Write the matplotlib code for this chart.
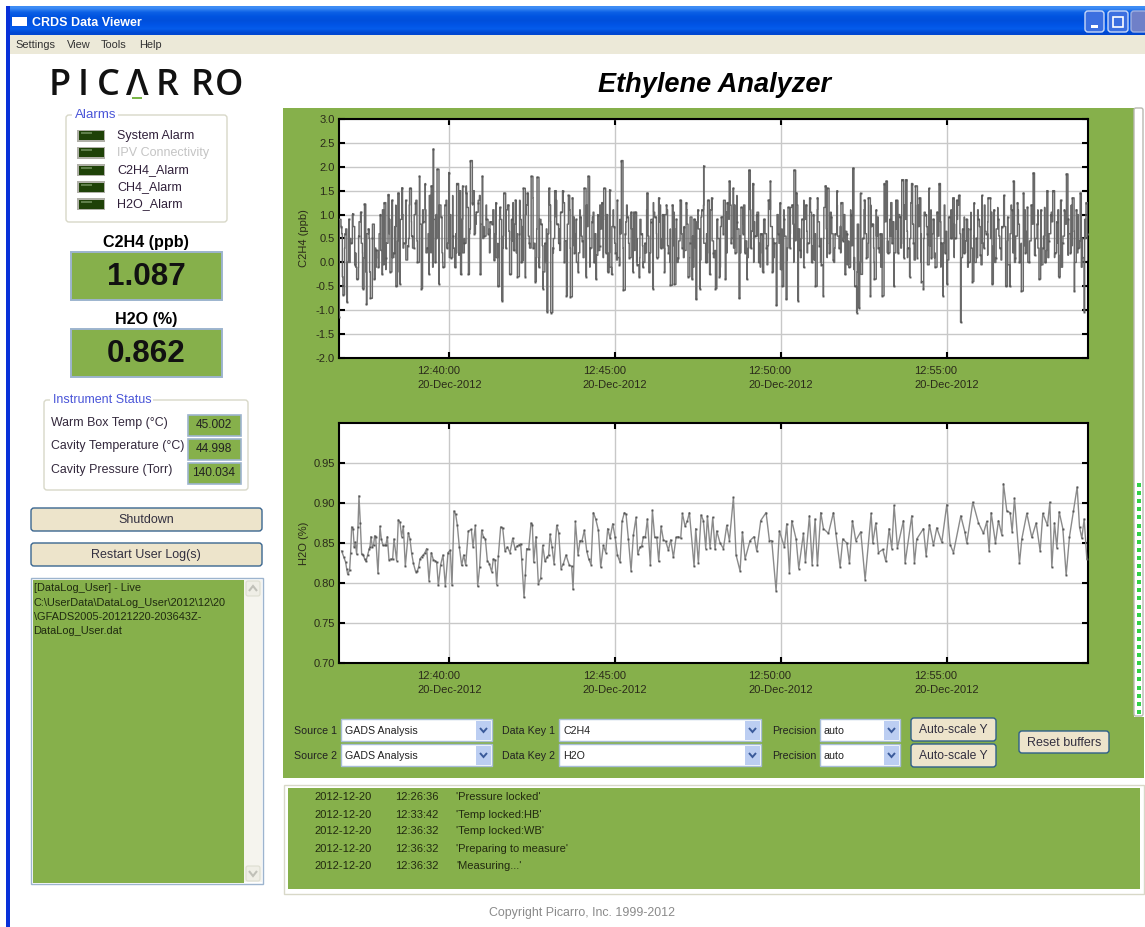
import numpy as np
import matplotlib
matplotlib.use("Agg")
import matplotlib.pyplot as plt
import matplotlib.dates as mdates
from matplotlib.patches import Rectangle, FancyBboxPatch, Polygon

plt.rcParams['font.family'] = ['Liberation Sans', 'DejaVu Sans']

# ---------------- data ----------------
window_title = "CRDS Data Viewer"
menu_items = ["Settings", "View", "Tools", "Help"]
main_title = "Ethylene Analyzer"
alarm_names = ["System Alarm", "IPV Connectivity", "C2H4_Alarm", "CH4_Alarm", "H2O_Alarm"]
status_names = ["Warm Box Temp (°C)", "Cavity Temperature (°C)", "Cavity Pressure (Torr)"]
status_values = ["45.002", "44.998", "140.034"]
c2h4_now = "1.087"
h2o_now = "0.862"
log_lines = ["[DataLog_User] - Live", "C:\\UserData\\DataLog_User\\2012\\12\\20",
             "\\GFADS2005-20121220-203643Z-", "DataLog_User.dat"]
event_dates = ["2012-12-20"] * 5
event_times = ["12:26:36", "12:33:42", "12:36:32", "12:36:32", "12:36:32"]
event_texts = ["'Pressure locked'", "'Temp locked:HB'", "'Temp locked:WB'",
               "'Preparing to measure'", "'Measuring...'"]

# the outer swings of the C2H4 trace
c2h4_values = [
    -1.15,.75,-.68,.6,-.83,.9,.4,1.02,-.05,-.35,.55,1.05,-.55,1.22,-.88,.7,-.75,
    .5,-.35,.25,-.1,1.0,-.25,1.25,.1,1.42,-.2,1.3,.2,-.5,1.45,-.45,1.56,.4,
    1.3,.35,1.55,.55,.3,1.25,-.0,1.8,-.55,.85,1.65,.3,-.25,1.6,2.37,.0,1.95,
    -.45,.95,-.1,1.2,.3,1.88,.1,.55,-.1,1.65,.2,-.25,1.6,.4,1.45,-.25,2.13,
    1.25,.6,1.05,1.25,-.25,1.8,.55,.9,.6,.85,.8,.05,1.25,-.5,1.15,-.8,1.45,
    .3,1.2,-.25,.9,.25,1.3,-.3,.6,.0,1.55,-.3,1.45,.4,1.8,.3,-.4,1.78,
    -.1,.8,-.55,.4,-1.03,1.55,-1.05,.3,1.5,.8,.4,1.05,1.5,.0,-.7,1.4,-.72,
    1.35,.2,.9,-.2,.95,.45,1.55,-.3,1.8,.3,.85,.0,-.35,1.0,.35,1.25,1.55,
    .2,-.2,1.52,-.25,.75,.2,1.3,-.05,2.13,-.58,.6,.95,.1,1.05,-.2,1.05,-.05,
    -.3,.6,-.1,.4,1.45,-.2,.85,-.55,.95,.1,1.35,.3,1.0,-.2,1.2,.2,-.48,
    1.2,-.46,.9,.1,1.3,.3,.75,1.25,-.3,
    .4,-.35,.9,-.77,1.1,-.55,1.1,2.02,.0,1.3,-.25,1.35,.2,-.55,.9,-.3,.95,
    .6,-.35,1.25,1.7,.4,1.55,.2,.85,-.75,1.15,.6,.2,-.35,1.93,.3,1.65,.55,
    1.0,.0,.6,-.2,.9,.3,1.3,1.7,-.2,.4,-.9,.6,1.25,-.5,.9,-.77,1.15,
    .3,1.2,1.93,1.45,-.8,.25,.9,-.1,1.2,.4,1.35,.0,1.0,-.5,1.35,.35,-.05,
    -.7,1.6,1.55,.2,.95,.05,.6,1.5,.3,1.25,.45,-.25,.6,-.1,1.0,1.97,-.5,
    -1.05,-.95,1.45,.5,1.3,.1,1.35,-.7,.8,-.35,1.1,.3,.6,-.7,1.65,1.7,.2,
    .9,.4,-.5,1.3,.2,.95,1.73,.1,1.73,.3,-.3,1.65,.4,1.6,.1,1.35,-.4,
    -.55,1.0,.6,1.55,.1,.9,-.1,1.05,1.65,.4,-.7,.2,-.45,.95,.5,1.35,.5,
    1.3,1.4,-1.25,.7,.2,.9,.0,.7,-.4,1.25,.5,.9,.15,1.4,.3,.6,1.35,
    1.35,-.45,1.1,.1,.9,.3,.75,1.4,-.5,.95,-.5,1.1,1.7,.1,1.25,.0,-.6,
    1.45,.2,1.15,.0,1.2,1.87,.15,.8,-.35,1.1,.3,.0,1.5,.45,1.0,1.5,.2,
    .85,-.3,1.3,.4,1.1,1.85,.9,.2,1.35,-.6,1.1,.3,1.45,.5,-1.03,1.25,.6,
]

# the dense middle band of the C2H4 trace, same time span
c2h4_band = [
    .1,.6,.3,.0,.5,.75,.2,-.1,.4,.1,.6,-.2,
    .05,.3,.1,.25,-.05,.4,.6,.2,.75,.45,.9,.3,
    .7,.5,.85,1.0,.45,.8,.35,1.1,.6,.2,.9,.5,
    .55,.2,.8,.4,1.0,.3,.6,.15,.9,.5,1.15,.7,
    1.2,1.0,1.3,.8,.75,.9,.7,.8,.6,.4,.9,.55,
    .3,.65,.45,.8,.6,.9,.75,1.0,.55,.85,.4,.7,
    .1,.35,.0,.6,.85,.5,.95,.7,1.05,.45,.8,.3,
    .35,.6,.2,.55,.3,.75,.5,.95,.6,.25,.7,.9,
    .55,.2,.75,.4,.1,.6,.3,.85,.4,.7,.25,.5,
    .1,.35,.2,.55,.9,1.05,.6,.85,.5,1.0,.35,.7,
    .35,.7,.45,.6,.25,.8,
    .1,.55,.3,.7,.95,.4,.6,.2,.45,.25,.5,.75,
    .8,1.05,.9,.5,1.2,.7,.55,.8,.45,.3,.65,.85,
    .55,.4,.2,.6,.35,.75,.5,.15,.4,.7,.55,.3,
    .6,.8,.45,.7,.5,.9,.65,.75,.35,.6,.85,.5,
    .5,.7,.4,.6,.3,.55,.75,.5,.65,.45,.35,.1,
    -.2,.0,.35,.6,.4,.75,.3,.55,.2,.6,.85,.45,
    .55,.85,.7,1.0,.4,.9,.65,.5,.8,.45,.75,.6,
    .5,.75,.35,.6,.2,.55,.85,.4,.65,.3,.5,.8,
    .9,.6,.2,.45,.7,.3,.55,.1,.75,.4,.65,.85,
    .5,.35,.7,.55,.3,.75,.45,.6,.2,.55,.8,.4,
    .35,.65,.45,.8,.5,.3,.7,.55,.25,.6,.85,.5,
    .4,.15,.55,.8,.6,.35,.65,.2,.45,.1,.5,.3,
]

# intermediate swings of the C2H4 trace, same time span
c2h4_mid = [
    .9,-.3,.7,.0,1.0,-.1,.85,.2,-.2,.5,
    .8,-.1,.6,1.1,-.15,.9,.1,1.2,-.2,1.0,
    .05,1.2,.3,1.3,.0,1.1,.2,1.4,-.1,1.0,
    1.2,.0,1.3,.1,1.4,.2,1.5,.2,1.6,.6,
    1.5,.8,1.4,.5,1.2,.2,1.1,.1,.9,.3,
    1.1,.1,1.25,.2,1.3,.05,1.2,.3,1.35,.1,
    .9,-.2,.7,1.2,.2,1.3,.25,1.25,.1,1.1,
    .95,.0,1.1,.1,1.2,-.1,1.05,.15,1.2,.1,
    1.0,-.1,1.1,.05,.9,-.05,1.2,.1,1.05,.0,
    .9,.0,1.1,.2,1.25,.1,1.2,.3,1.1,.0,
    1.05,.0,.95,.1,1.1,
    .95,-.1,.85,.05,1.2,.0,1.1,.1,.9,-.1,
    1.3,.2,1.2,.3,1.4,.2,1.2,.1,1.1,.0,
    1.05,-.1,.9,-.05,1.1,.1,1.0,-.15,1.1,.05,
    1.15,.0,1.2,.1,1.3,.2,1.05,.05,1.1,.0,
    1.15,.1,1.05,.0,1.2,.2,1.0,-.05,1.1,-.15,
    .8,-.25,1.1,.1,1.2,.0,.95,-.1,1.15,.2,
    1.25,.2,1.3,.3,1.2,.1,1.25,.05,1.2,.0,
    1.05,-.05,1.1,.1,1.0,-.1,1.2,.05,1.1,.1,
    1.2,.1,.95,-.1,1.05,.0,1.1,-.05,1.2,.15,
    1.05,.0,1.15,.05,1.0,-.05,1.2,.0,1.1,.05,
    1.1,.0,1.2,.15,1.1,-.05,1.15,.1,1.05,.1,
    1.1,-.1,1.05,.15,1.2,.0,1.0,-.1,.9,.05,
]

# (sample tick, H2O %): one tick is about 0.6 s
h2o_readings = [
    (155,.840),(161,.833),(167,.826),(170,.818),(173,.811),(179,.816),(182,.838),(185,.870),(189,.868),(193,.845),
    (196,.851),(200,.836),(204,.870),(207,.909),(211,.875),(215,.836),(220,.835),(224,.830),(228,.827),(233,.835),
    (238,.843),(240,.845),(243,.858),(247,.845),(251,.848),(254,.859),(257,.858),(264,.812),(270,.871),(274,.855),
    (279,.847),(285,.847),(288,.848),(292,.858),(297,.829),(303,.830),(308,.830),(312,.855),(320,.828),(325,.879),
    (330,.876),(335,.858),(340,.871),(346,.821),(355,.863),(360,.855),(365,.837),(370,.825),(377,.814),(382,.815),
    (386,.820),(390,.830),(395,.833),(400,.835),(405,.838),(410,.843),(417,.803),(424,.838),(430,.829),(435,.828),
    (440,.826),(445,.797),(452,.823),(459,.835),(466,.796),(474,.838),(481,.841),(486,.797),(492,.890),(497,.886),
    (502,.872),(508,.845),(515,.822),(521,.835),(527,.822),(535,.865),(544,.867),(549,.845),(556,.872),(563,.796),
    (569,.820),(575,.866),(580,.858),(586,.855),(592,.828),(598,.824),(605,.814),(610,.830),(615,.829),(620,.798),
    (625,.834),(632,.870),(638,.869),(645,.840),(652,.845),(660,.838),(668,.856),(675,.843),(681,.846),(688,.848),
    (692,.849),(695,.830),(702,.782),(706,.810),(710,.843),(716,.842),(723,.875),(727,.873),(731,.826),(738,.858),
    (745,.799),(752,.806),(758,.847),(765,.827),(772,.833),(776,.835),(780,.861),(786,.845),(792,.824),(800,.872),
    (806,.863),(813,.818),(820,.824),(828,.835),(838,.822),(845,.821),(849,.792),(856,.877),(864,.835),(870,.853),
    (876,.853),(883,.866),(890,.840),(896,.830),(903,.823),(910,.888),(917,.880),(925,.866),(932,.820),(940,.847),
    (947,.838),(953,.868),(960,.856),(968,.874),(975,.858),(982,.835),(990,.826),(996,.877),(1003,.888),(1008,.886),
    (1015,.855),(1023,.815),(1030,.860),(1038,.882),(1043,.836),(1050,.845),(1055,.846),(1060,.858),(1066,.858),(1072,.880),
    (1081,.822),(1087,.891),(1094,.857),(1100,.857),(1106,.827),(1113,.871),(1120,.854),(1127,.852),(1135,.841),(1142,.854),
    (1150,.832),(1158,.857),(1165,.858),(1172,.856),(1177,.887),(1185,.871),(1192,.878),(1198,.888),
    (1212,.821),(1217,.868),(1225,.825),(1233,.885),(1240,.878),(1247,.843),(1252,.884),(1260,.844),(1268,.882),(1275,.842),
    (1280,.865),(1290,.850),(1300,.843),(1310,.872),(1318,.853),(1330,.907),(1338,.835),(1350,.815),(1357,.864),(1365,.830),
    (1380,.853),(1392,.858),(1400,.840),(1412,.878),(1428,.888),(1438,.853),(1445,.853),(1458,.790),(1468,.865),(1483,.845),
    (1490,.874),(1498,.812),(1505,.878),(1518,.855),(1526,.818),(1540,.862),(1546,.826),(1558,.884),(1566,.823),(1575,.880),
    (1582,.822),(1592,.888),(1600,.868),(1615,.862),(1630,.888),(1637,.863),(1650,.820),(1658,.855),(1670,.850),(1678,.825),
    (1687,.878),(1697,.853),(1712,.864),(1725,.804),(1743,.887),(1748,.850),(1757,.875),(1765,.838),(1778,.842),(1787,.827),
    (1797,.868),(1805,.843),(1812,.897),(1822,.844),(1840,.878),(1845,.825),(1865,.884),(1873,.825),(1880,.855),(1900,.868),
    (1908,.834),(1918,.873),(1930,.847),(1940,.869),(1955,.851),(1970,.898),(1980,.848),(1990,.838),(2012,.884),(2024,.864),
    (2030,.850),(2048,.901),(2065,.875),(2080,.862),(2090,.877),(2097,.840),(2103,.888),(2116,.850),(2125,.878),(2135,.860),
    (2140,.924),(2150,.890),(2160,.888),(2166,.864),(2173,.906),(2188,.825),(2195,.855),(2210,.887),(2225,.857),(2238,.875),
    (2250,.840),(2258,.887),(2272,.872),(2279,.901),(2285,.820),(2293,.875),(2300,.844),(2307,.889),(2318,.868),(2328,.810),
    (2338,.858),(2350,.890),(2361,.920),(2368,.870),(2375,.856),(2382,.880),(2390,.830),
]
h2o_ticks = [r[0] for r in h2o_readings]
h2o_values = [r[1] for r in h2o_readings]

c2h4_yticks = [-2.0, -1.5, -1.0, -0.5, 0.0, 0.5, 1.0, 1.5, 2.0, 2.5, 3.0]
h2o_yticks = [0.70, 0.75, 0.80, 0.85, 0.90, 0.95]
axis_minutes = [40, 45, 50, 55]

# ---------------- style ----------------
GREEN = '#86B04B'
BEIGE = '#ECE9D8'
W, H = 1145, 927
fig = plt.figure(figsize=(W / 100, H / 100), dpi=100, facecolor='white')
ui = fig.add_axes([0, 0, 1, 1], zorder=0)
ui.axis('off')


def rect(x0, y0, x1, y1, fc, ec='none', lw=0, z=1):
    ui.add_patch(Rectangle((x0, y0), x1 - x0, y1 - y0, fc=fc, ec=ec, lw=lw, zorder=z))


def rrect(x0, y0, x1, y1, fc, ec, lw=1, r=3, z=1):
    ui.add_patch(FancyBboxPatch((x0 + r, y0 + r), x1 - x0 - 2 * r, y1 - y0 - 2 * r,
                                boxstyle=f"round,pad={r},rounding_size={r}",
                                fc=fc, ec=ec, lw=lw, zorder=z, mutation_aspect=1))


def txt(x, y, s, size=8, color='#222222', ha='left', **kw):
    ui.text(x, y + 1, s, fontsize=size, color=color, ha=ha, va='center', zorder=5, **kw)


# title bar, window frame, menu
bar = np.array([[0.24, 0.55, 0.96], [0.05, 0.38, 0.90], [0.0, 0.33, 0.88], [0.0, 0.31, 0.86],
                [0.0, 0.33, 0.90], [0.02, 0.36, 0.92], [0.0, 0.28, 0.82]])[:, None, :]
ui.imshow(bar, extent=(7, W, 35, 6), aspect='auto', zorder=1, interpolation='bilinear')
rect(6, 6, 10, H, '#0831D9')
rect(10, 35, W, 54, BEIGE, z=2)
rect(12, 17, 27, 26, 'white', z=3)
txt(32, 21.5, window_title, size=9, color='white', fontweight='bold')
for x, name in zip([15, 67, 101, 139], menu_items):
    txt(x, 43.5, name, size=7.9, color='#333333')
rrect(1085, 11, 1104, 32, '#3C6FE0', '#C8D8F8', lw=1, r=3, z=3)
rect(1091, 25, 1098, 28, 'white', z=4)
rrect(1108, 11, 1128, 32, '#3C6FE0', '#C8D8F8', lw=1, r=3, z=3)
rect(1113, 17, 1123, 27, 'none', 'white', 1.2, z=4)
rrect(1131, 11, 1147, 32, '#6F80C8', '#9FB0E0', lw=1, r=3, z=3)

# logo
for x, letter in zip([60, 83, 108, 137, 167.5, 202, 229.5], "PICΛRRO"):
    txt(x, 84.5, letter, size=26, color='#111111', ha='center',
        family=['Open Sans', 'DejaVu Sans'], fontweight='semibold')
rect(132, 97, 142, 99, '#7AB648', z=6)

# alarms
rrect(66, 115, 227, 222, 'white', '#D8D8C8', lw=1.0)
rect(72, 110, 118, 120, 'white', z=2)
txt(75, 114, "Alarms", size=9.6, color='#4A55D8')
for y, name in zip([135.5, 152.5, 170, 187, 204], alarm_names):
    rect(77, y - 6, 105, y + 6, '#B0B0A8', z=2)
    rect(78.5, y - 4.5, 103.5, y + 4.5, '#1F4208', z=3)
    rect(81, y - 3.5, 92, y - 1.5, '#5F7F4A', z=4)
    txt(117, y - 0.7, name, size=9, color='#C4C4C4' if name.startswith('IPV') else '#30203A')

# big readouts
for cy, head, val, y0, y1 in [(241.5, "C2H4 (ppb)", c2h4_now, 252, 300), (318.5, "H2O (%)", h2o_now, 329, 377)]:
    txt(146, cy, head, size=11.6, color='black', ha='center', fontweight='bold')
    rect(71, y0, 222, y1, GREEN, '#9DB4CE', 1.4)
    txt(146, (y0 + y1) / 2, val, size=22.6, color='#111111', ha='center', fontweight='bold')

# status
rrect(44, 400, 248, 490, 'white', '#D8D8C8', lw=1.0)
rect(50, 394, 153, 406, 'white', z=2)
txt(53, 399, "Instrument Status", size=9, color='#4A55D8')
for y, name, v, y0, y1 in zip([422, 445, 469], status_names, status_values, [415, 439, 463], [436, 460, 484]):
    txt(51, y, name, size=8.9, color='#33283C')
    rect(188, y0, 241, y1, GREEN, '#9DB4CE', 1.2, z=2)
    txt(214, (y0 + y1) / 2 - 2, v, size=8.6, color='#222222', ha='center')

# buttons
for y0, y1, s in [(508, 531, "Shutdown"), (543, 566, "Restart User Log(s)")]:
    rrect(31, y0, 262, y1, '#EDE4CB', '#3A6690', lw=1.0, r=3)
    txt(146, (y0 + y1) / 2 - 0.5, s, size=9, color='#333040', ha='center')

# log box
rect(31, 578, 263, 884, 'white', '#9DB4CE', 1.0)
rect(32.5, 579.5, 244, 882.5, GREEN, z=2)
rect(244, 580, 262, 882, '#F5F4EE', z=2)
for y in (581, 866):
    rrect(246, y, 260, y + 15, '#EFEEE6', '#DDDDD0', lw=0.8, r=2, z=3)
ui.add_patch(Polygon([(249, 591), (253, 586), (257, 591)], closed=False, fc='none', ec='#C0C0B8', lw=1.5, zorder=4))
ui.add_patch(Polygon([(249, 871), (253, 876), (257, 871)], closed=False, fc='none', ec='#C0C0B8', lw=1.5, zorder=4))
for y, s in zip([587, 601.5, 615.5, 629.5], log_lines):
    txt(33.5, y, s, size=7.9, color='#1F2A10')

# main title and panels
txt(714, 84, main_title, size=19.5, color='black', ha='center', fontweight='bold', fontstyle='italic')
rect(283, 108, 1134, 717, GREEN)
rect(283, 717, 1144, 778, GREEN)
rrect(1134, 108, 1143, 716, 'white', '#B8B8B0', lw=1, r=2)
for y in np.arange(483, 714, 8.1):
    rect(1137, y, 1141, y + 4, '#35D24A', z=3)

# control row
for y, n, src, key in [(730, 1, "GADS Analysis", "C2H4"), (755, 2, "GADS Analysis", "H2O")]:
    txt(294, y, f"Source {n}", size=7.7)
    txt(502, y, f"Data Key {n}", size=7.7)
    txt(772, y, "Precision", size=7.7)
    for x0, x1, s in [(341, 492, src), (559, 761, key), (820, 900, "auto")]:
        rect(x0, y - 11, x1, y + 11, 'white', '#A8BDD8', 1.0, z=2)
        txt(x0 + 4, y, s, size=7.7)
        rect(x1 - 16, y - 9.5, x1 - 1.5, y + 9.5, '#BCCEF2', z=3)
        ui.add_patch(Polygon([(x1 - 12, y - 2), (x1 - 8.5, y + 2), (x1 - 5, y - 2)], closed=False,
                             fc='none', ec='#3A5A9A', lw=1.4, zorder=4))
for y0, y1 in [(718, 741), (744, 767)]:
    rrect(911, y0, 996, y1, '#EDE4CB', '#2F5F8A', lw=1.0, r=3)
    txt(953.5, (y0 + y1) / 2 - 0.5, "Auto-scale Y", size=8.7, color='#333040', ha='center')
rrect(1019, 731, 1109, 753, '#EDE4CB', '#2F5F8A', lw=1.0, r=3)
txt(1064, 741.5, "Reset buffers", size=9, color='#333040', ha='center')

# event log
rect(284, 785, 1144, 894, 'white', '#D8D8C8', 1.0)
rect(288, 788, 1140, 889, GREEN, z=2)
for y, d, t, s in zip([796, 813.5, 830.5, 848, 865], event_dates, event_times, event_texts):
    txt(314.5, y, d, size=8, color='#222A10')
    txt(395, y, t, size=8, color='#222A10')
    txt(456, y, s, size=8, color='#222A10')
txt(582, 912, "Copyright Picarro, Inc. 1999-2012", size=8.9, color='#8A8A8A', ha='center')

ui.set_xlim(0, W)
ui.set_ylim(H, 0)

# ---------------- charts ----------------
t_base = np.datetime64('2012-12-20T12:40:00')


def when(seconds):
    return mdates.date2num(t_base + (np.asarray(seconds) * 1000).astype('timedelta64[ms]'))


x_left, x_right = when(-199.7), when(1156.0)
tick_times = [mdates.date2num(np.datetime64(f'2012-12-20T12:{m}:00')) for m in axis_minutes]


def make_axes(top, bottom, ylim, yticks, ylabel, fmt):
    ax = fig.add_axes([339 / W, 1 - bottom / H, (1088 - 339) / W, (bottom - top) / H], zorder=2)
    ax.set_facecolor('white')
    ax.set_xlim(x_left, x_right)
    ax.set_ylim(*ylim)
    ax.set_yticks(yticks)
    ax.set_yticklabels([fmt % v for v in yticks])
    ax.set_xticks(tick_times)
    ax.xaxis.set_major_formatter(mdates.DateFormatter('%H:%M:%S\n%d-%b-%Y'))
    ax.grid(True, color='#C8C8C8', lw=1)
    ax.set_axisbelow(True)
    ax.tick_params(axis='both', direction='in', length=4, width=1.5, color='black',
                   top=True, right=True, labelsize=8, labelcolor='#2A2A1A')
    ax.tick_params(axis='y', pad=3)
    ax.tick_params(axis='x', pad=6)
    fig.canvas.draw()
    for lab in ax.get_xticklabels():
        lab.set_linespacing(1.45)
        lab.set_multialignment('left')
    for sp in ax.spines.values():
        sp.set_linewidth(1.5)
        sp.set_color('black')
    ax.set_ylabel(ylabel, fontsize=8, color='#2A2A1A', va='center')
    ax.yaxis.set_label_coords((304 - 339) / (1088 - 339), 0.5)
    return ax


ax1 = make_axes(119, 358, (-2.0, 3.0), c2h4_yticks, "C2H4 (ppb)", "%.1f")
t_outer = np.linspace(x_left, x_right, len(c2h4_values))
t_band = np.linspace(x_left, x_right, len(c2h4_band))
t_mid = np.linspace(x_left, x_right, len(c2h4_mid))
t1 = np.concatenate([t_outer, t_band, t_mid])
y1 = np.concatenate([c2h4_values, c2h4_band, c2h4_mid])
order = np.argsort(t1, kind='stable')
ax1.plot(t1[order], y1[order], color='#686868', lw=1.05, drawstyle='steps-post', zorder=3)
ax1.plot(t_outer, c2h4_values, ls='none', marker='s', ms=1.4, mew=0, color='#555555', zorder=4)

ax2 = make_axes(423, 663, (0.70, 1.0), h2o_yticks, "H2O (%)", "%.2f")
t2 = when((np.array(h2o_ticks) - 478) * 0.6035)
ax2.plot(t2, h2o_values, color='#8A8A8A', lw=1.0, zorder=3)
ax2.plot(t2, h2o_values, ls='none', marker='s', ms=1.4, mew=0, color='#555555', zorder=4)

fig.savefig('out.png', dpi=100, facecolor='white')
